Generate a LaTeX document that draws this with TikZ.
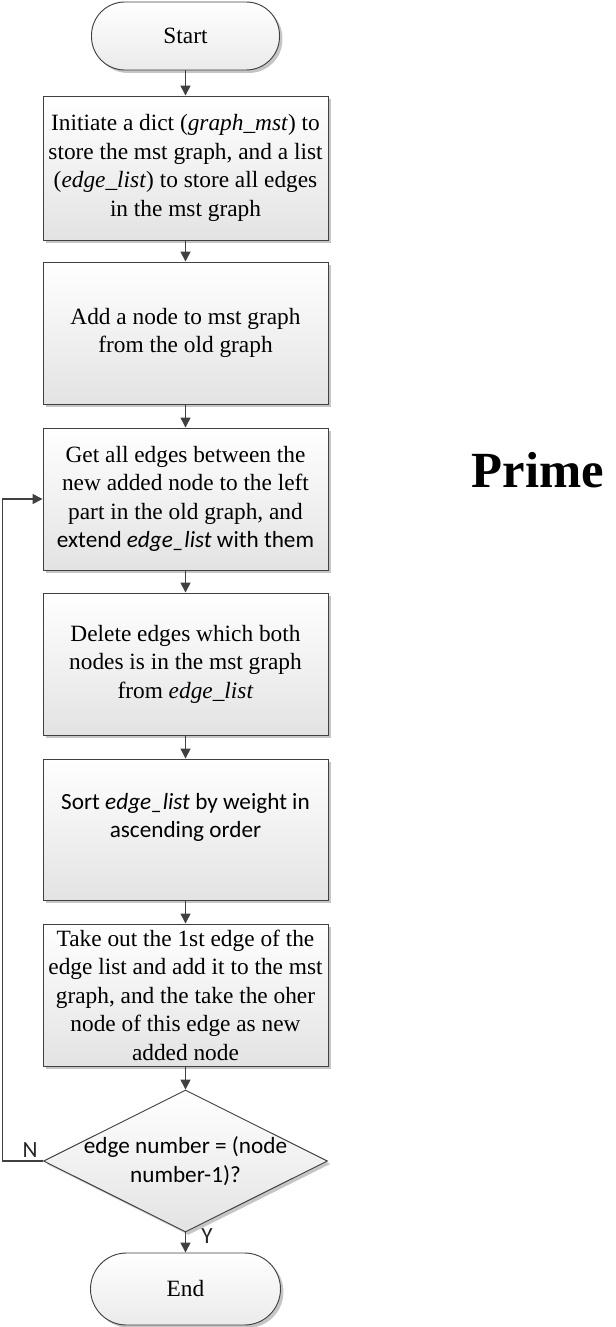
\documentclass[tikz,border=0pt]{standalone}
\usepackage{fontspec}
\setmainfont{Liberation Serif}
\setsansfont{Carlito}
\usetikzlibrary{shapes.geometric,arrows.meta,shadows}
\begin{document}
\begin{tikzpicture}[x=0.75pt,y=-0.75pt,
  every node/.style={inner sep=0pt},
  txt/.style={font=\fontsize{17.5}{21.4}\selectfont},
  sanstxt/.style={font=\sffamily\fontsize{17.4}{21.4}\selectfont},
  shd/.style={drop shadow={shadow xshift=2.2pt,shadow yshift=-2.2pt,fill=black!45,opacity=0.5}},
  box/.style={draw=black!75, line width=0.7pt, top color=white, bottom color=black!11, shd,
    minimum width=213.75pt, minimum height=106.5pt, align=center, txt},
  pill/.style={draw=black!75, line width=0.7pt, top color=white, bottom color=black!8, shd,
    rounded corners=25pt, minimum width=141pt, minimum height=51pt, txt},
  dec/.style={draw=black!75, line width=0.7pt, diamond, top color=white, bottom color=black!11, shd,
    minimum width=213pt, minimum height=106.5pt},
  arr/.style={draw=black!75, line width=1.1pt, -{Triangle[length=7.5pt,width=7.5pt]}},
  lbl/.style={sanstxt, text=black!85}
]
\useasboundingbox (0,0) rectangle (616,1327);

\node[pill] (start) at (185.5,36) {Start};
\node[box, minimum height=108pt] (b1) at (185.5,168) {Initiate a dict (\textit{graph\_mst}) to\\store the mst graph, and a list\\(\textit{edge\_list}) to store all edges\\in the mst graph};
\node[box] (b2) at (185.5,333) {Add a node to mst graph\\from the old graph};
\node[box] (b3) at (185.5,499) {Get all edges between the\\new added node to the left\\part in the old graph, and\\\textsf{\fontsize{17.4}{21.4}\selectfont extend \textit{edge\_list} with them}};
\node[box] (b4) at (185.5,664) {Delete edges which both\\nodes is in the mst graph\\from \textit{edge\_list}};
\node[box, sanstxt, minimum height=105.75pt] (b5) at (185.5,829.5) {Sort \textit{edge\_list} by weight in\\ascending order\\~};
\node[box] (b6) at (185.5,995) {Take out the 1st edge of the\\edge list and add it to the mst\\graph, and the take the oher\\node of this edge as new\\added node};
\node[dec, label={[sanstxt, align=center]center:edge number = (node\\number-1)?}] (dia) at (185.5,1161) {};
\node[pill, minimum width=142.5pt, minimum height=54pt, rounded corners=27pt] (end) at (185.5,1289) {End};

\node[font=\bfseries\fontsize{38}{42}\selectfont, anchor=base] (title) at (538,487) {Prime};

\draw[arr] (start) -- (b1);
\draw[arr] (b1) -- (b2);
\draw[arr] (b2) -- (b3);
\draw[arr] (b3) -- (b4);
\draw[arr] (b4) -- (b5);
\draw[arr] (b5) -- (b6);
\draw[arr] (b6) -- (dia);
\draw[arr] (dia) -- (end);
\coordinate (lp) at (2.7,1161);
\draw[arr] (dia.west) -- (lp) |- (b3.west);

\node[lbl] (n) at (30,1150) {N};
\node[lbl] (y) at (207,1236) {Y};
\end{tikzpicture}
\end{document}
